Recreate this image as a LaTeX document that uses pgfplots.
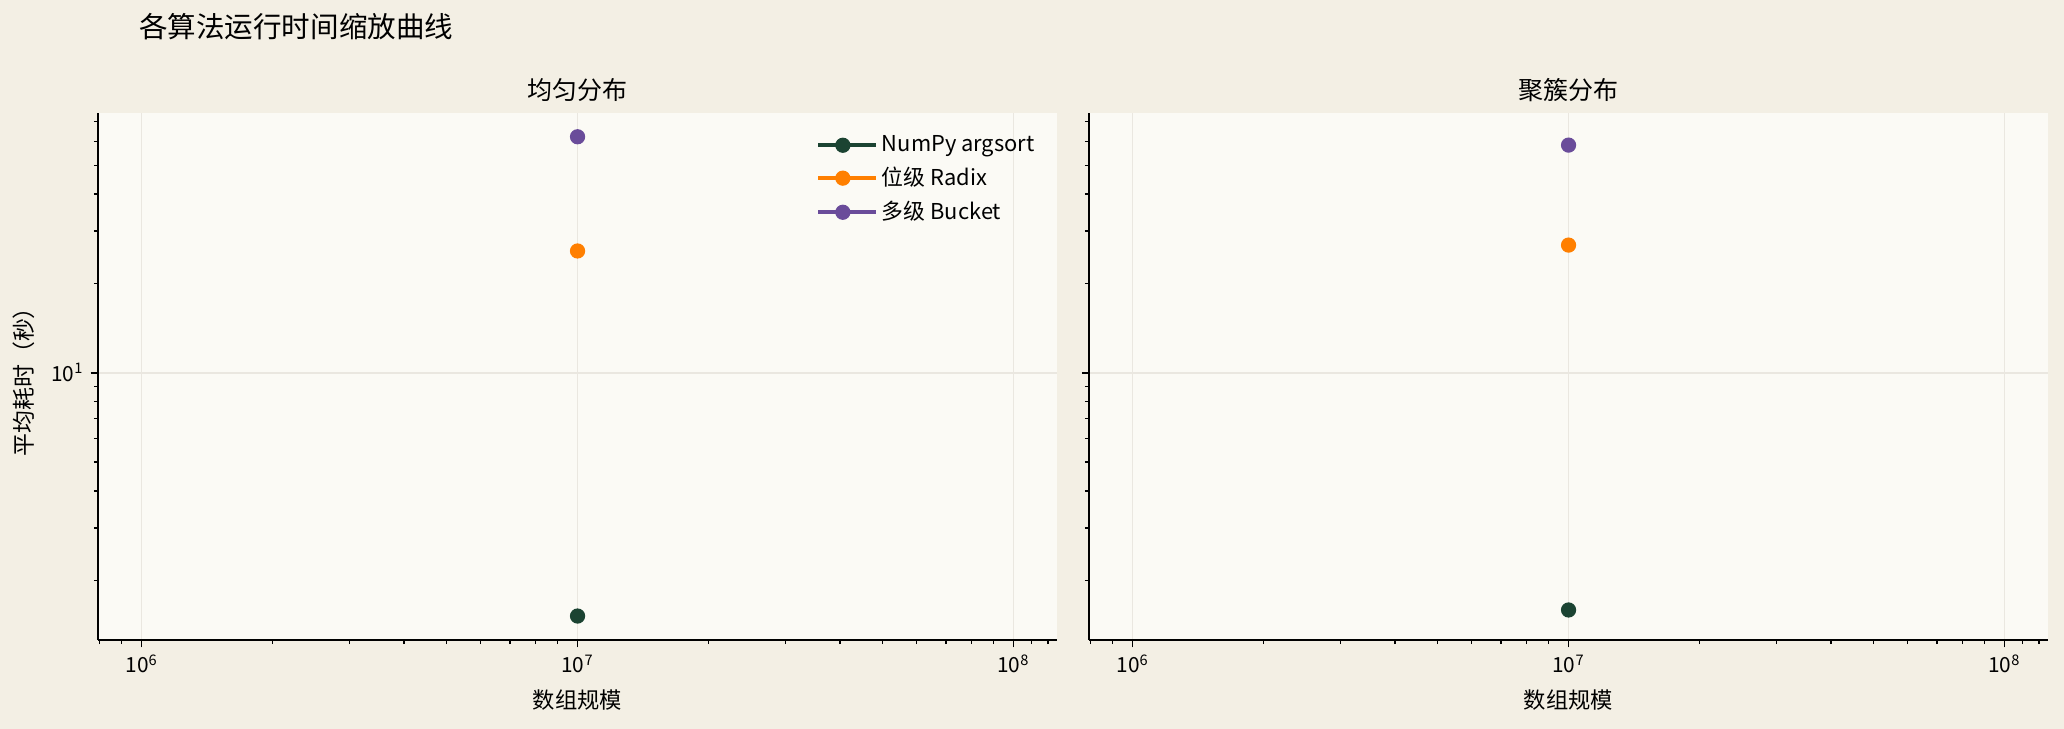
\documentclass[border=0pt]{standalone}
\usepackage{pgfplots}
\pgfplotsset{compat=1.18}
\usepackage{fontspec}
\setmainfont{Noto Sans CJK SC}
\definecolor{figbg}{RGB}{243,239,228}
\definecolor{axbg}{RGB}{251,250,245}
\definecolor{gridc}{RGB}{234,231,224}
\definecolor{cnp}{RGB}{27,67,50}
\definecolor{crx}{RGB}{255,127,0}
\definecolor{cbk}{RGB}{106,76,154}

\pgfplotsset{
  every axis/.append style={
    scale only axis, width=460.32pt, height=253.1pt,
    xmin=794328, xmax=125892541, ymin=1.259, ymax=75.1,
    axis background/.style={fill=axbg},
    axis x line*=bottom, axis y line*=left,
    axis line style={line width=0.8pt},
    tick align=outside,
    major tick length=3.5pt, minor tick length=2pt,
    tick style={black, line width=0.8pt},
    minor tick style={black, line width=0.6pt},
    xtick={1e6,1e7,1e8},
    xticklabels={10\textsuperscript{6},10\textsuperscript{7},10\textsuperscript{8}},
    minor xtick={8e5,9e5,2e6,3e6,4e6,5e6,6e6,7e6,8e6,9e6,2e7,3e7,4e7,5e7,6e7,7e7,8e7,9e7,1.1e8,1.2e8},
    ytick={10},
    minor ytick={2,3,4,5,6,7,8,9,20,30,40,50,60,70},
    grid=major, major grid style={gridc, line width=0.8pt},
    ticklabel style={font=\fontsize{10}{12}\selectfont},
    xlabel={数组规模},
    xlabel style={font=\fontsize{10.7}{12}\selectfont, at={(axis description cs:0.5,-0.1138)}, anchor=center},
    title style={font=\fontsize{12}{14}\selectfont, at={(axis description cs:0.5,1.0186)}, anchor=center},
  },
}

\begin{document}
\begin{tikzpicture}
\fill[figbg] (0pt,0pt) rectangle (990.72pt,349.92pt);
\path[use as bounding box] (0pt,0pt) rectangle (990.72pt,349.92pt);
\node[anchor=west, font=\fontsize{13.7}{16}\selectfont] at (63.3pt,337.2pt) {各算法运行时间缩放曲线};

\begin{loglogaxis}[at={(47.04pt,42.72pt)}, anchor=south west,
  title={均匀分布},
  yticklabels={10\textsuperscript{1}},
  ylabel={平均耗时（秒）},
  ylabel style={font=\fontsize{11}{12}\selectfont, at={(axis description cs:-0.0771,0.5)}, anchor=center},
  legend style={at={(0.742,0.973)}, anchor=north west, draw=none, fill=none,
    font=\fontsize{10.5}{12}\selectfont, row sep=2pt},
  legend cell align=left,
  legend image code/.code={%
    \draw[mark repeat=2,mark phase=2,#1] plot coordinates {(0pt,0pt) (11.75pt,0pt) (23.5pt,0pt)};
    \path (0pt,0pt) -- (27.5pt,0pt);},
]
\addplot[color=cnp, line width=2pt, mark=*, mark size=3.4pt, mark options={solid, line width=0.5pt}] coordinates {(1e7,1.516)};
\addlegendentry{NumPy argsort}
\addplot[color=crx, line width=2pt, mark=*, mark size=3.4pt, mark options={solid, line width=0.5pt}] coordinates {(1e7,25.7)};
\addlegendentry{位级 Radix}
\addplot[color=cbk, line width=2pt, mark=*, mark size=3.4pt, mark options={solid, line width=0.5pt}] coordinates {(1e7,62.3)};
\addlegendentry{多级 Bucket}
\end{loglogaxis}

\begin{loglogaxis}[at={(522.72pt,42.72pt)}, anchor=south west,
  title={聚簇分布},
  yticklabels={},
]
\addplot[color=cnp, line width=2pt, mark=*, mark size=3.4pt, mark options={solid, line width=0.5pt}] coordinates {(1e7,1.589)};
\addplot[color=crx, line width=2pt, mark=*, mark size=3.4pt, mark options={solid, line width=0.5pt}] coordinates {(1e7,26.9)};
\addplot[color=cbk, line width=2pt, mark=*, mark size=3.4pt, mark options={solid, line width=0.5pt}] coordinates {(1e7,58.4)};
\end{loglogaxis}
\end{tikzpicture}
\end{document}
